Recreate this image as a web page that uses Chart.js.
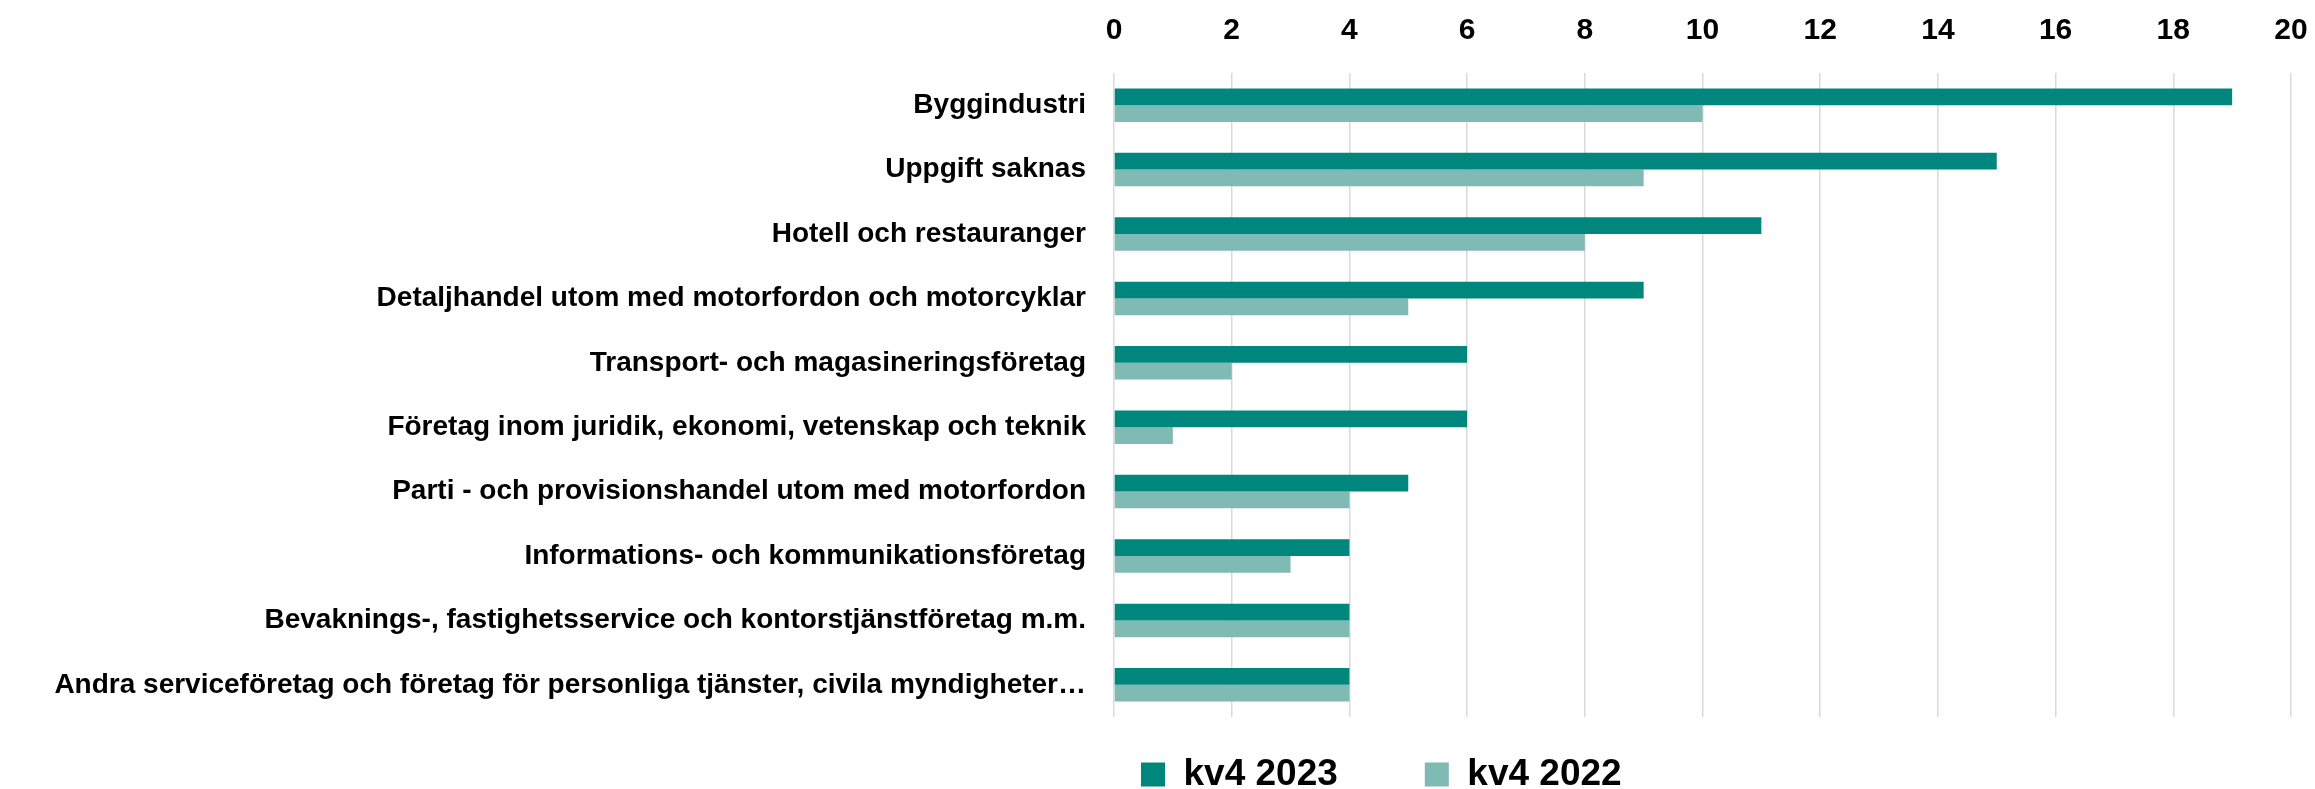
<!DOCTYPE html>
<html>
<head>
<meta charset="utf-8">
<script src="https://cdn.jsdelivr.net/npm/chart.js@4"></script>
<style>
  html, body { margin: 0; padding: 0; background: #ffffff; }
  #wrap { position: relative; width: 2315px; height: 789px; }
</style>
</head>
<body>
<div id="wrap"><canvas id="c"></canvas></div>
<script>
const categories = [
  "Byggindustri",
  "Uppgift saknas",
  "Hotell och restauranger",
  "Detaljhandel utom med motorfordon och motorcyklar",
  "Transport- och magasineringsföretag",
  "Företag inom juridik, ekonomi, vetenskap och teknik",
  "Parti - och provisionshandel utom med motorfordon",
  "Informations- och kommunikationsföretag",
  "Bevaknings-, fastighetsservice och kontorstjänstföretag m.m.",
  "Andra serviceföretag och företag för personliga tjänster, civila myndigheter…"
];
const seriesNames = ["kv4 2023", "kv4 2022"];
const values2023 = [19, 15, 11, 9, 6, 6, 5, 4, 4, 4];
const values2022 = [10, 9, 8, 5, 2, 1, 4, 3, 4, 4];
const xTickMin = 0;
const xTickMax = 20;
const xTickStep = 2;

const DARK = "#00877D";
const LIGHT = "#7FBAB4";
const FONT = "'Liberation Sans', Arial, sans-serif";

const LEGEND_X = 1141;
const LEGEND_Y = 756;
const LEGEND_H = 72;

const legendPlacer = {
  id: 'legendPlacer',
  afterInit(chart) {
    const lg = chart.legend;
    if (!lg) return;
    const origFit = lg.fit.bind(lg);
    lg.fit = function () { origFit(); this.height = LEGEND_H; };
  },
  afterLayout(chart) {
    const lg = chart.legend;
    if (!lg || !lg.lineWidths) return;
    const pad = lg.options.labels.padding;
    const lineW = lg.lineWidths[0];
    const w = lg.right - lg.left;
    const sum = 2 * LEGEND_X + lineW - pad;
    lg.left = (sum - w) / 2;
    lg.right = lg.left + w;
    lg.top = LEGEND_Y - pad;
    lg.bottom = chart.height;
    lg.height = lg.bottom - lg.top;
  }
};

new Chart(document.getElementById('c'), {
  type: 'bar',
  data: {
    labels: categories,
    datasets: [
      { label: seriesNames[0], data: values2023, backgroundColor: DARK, borderWidth: 0 },
      { label: seriesNames[1], data: values2022, backgroundColor: LIGHT, borderWidth: 0 }
    ]
  },
  options: {
    indexAxis: 'y',
    responsive: true,
    maintainAspectRatio: false,
    animation: false,
    layout: { padding: { left: 0, right: 24, top: 0, bottom: 0 } },
    datasets: { bar: { categoryPercentage: 0.52, barPercentage: 1.0 } },
    scales: {
      x: {
        position: 'top',
        min: xTickMin,
        max: xTickMax,
        ticks: {
          stepSize: xTickStep,
          color: '#000',
          padding: 24,
          font: { family: FONT, size: 30, weight: 'bold' }
        },
        grid: { color: '#d9d9d9', lineWidth: 1.5, drawTicks: false },
        border: { display: false },
        afterFit(scale) {
          scale.height = 73;
          scale.paddingRight = 0;
          scale.paddingLeft = 0;
        }
      },
      y: {
        ticks: {
          color: '#000',
          padding: 28,
          autoSkip: false,
          font: { family: FONT, size: 28, weight: 'bold' }
        },
        grid: { display: false, drawTicks: false },
        border: { display: false },
        afterFit(scale) { scale.width = 1114; }
      }
    },
    plugins: {
      legend: {
        position: 'bottom',
        labels: {
          boxWidth: 24,
          boxHeight: 24,
          padding: 87,
          color: '#000',
          font: { family: FONT, size: 37, weight: 'bold' }
        }
      },
      tooltip: { enabled: false }
    }
  },
  plugins: [legendPlacer]
});
</script>
</body>
</html>
